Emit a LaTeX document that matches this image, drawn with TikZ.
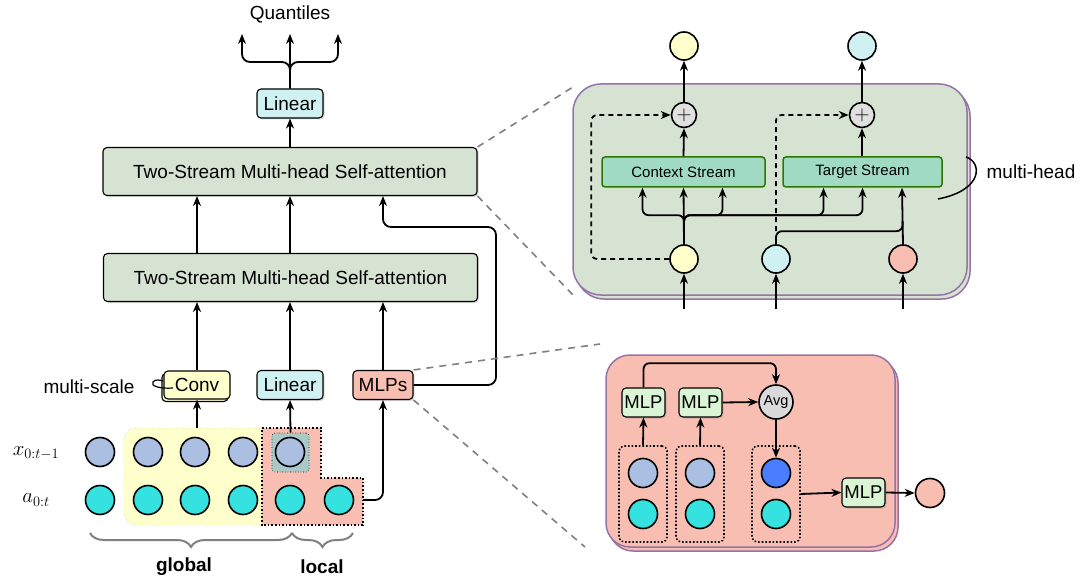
\documentclass[tikz,border=0pt]{standalone}
\usepackage{fontspec}
\setmainfont{Liberation Sans}
\usetikzlibrary{arrows.meta,shadows,decorations.pathreplacing}

\definecolor{tsgreen}{HTML}{D6E3D3}
\definecolor{lincyan}{HTML}{CFF1F1}
\definecolor{convyellow}{HTML}{FFFFCC}
\definecolor{salmon}{HTML}{F9BEB2}
\definecolor{xblue}{HTML}{AABFE2}
\definecolor{acyan}{HTML}{36E2E0}
\definecolor{selteal}{HTML}{A9C9C7}
\definecolor{panelpurple}{HTML}{9673A6}
\definecolor{streamgreen}{HTML}{A0DAC3}
\definecolor{streamborder}{HTML}{2D7600}
\definecolor{mlpgreen}{HTML}{D9F5D3}
\definecolor{plusgray}{HTML}{E0E0E0}
\definecolor{avggray}{HTML}{DADADA}
\definecolor{avgblue}{HTML}{4A7DFF}

\begin{document}
\begin{tikzpicture}[x=1pt, y=-1pt,
    every node/.style={font=\fontsize{19}{22}\selectfont},
    arr/.style={-{Stealth[length=10pt,width=8pt]}, line width=1.8pt},
    blk/.style={draw, rounded corners=4pt, inner sep=0pt, line width=1.1pt,
      drop shadow={shadow xshift=1.5pt, shadow yshift=-1.5pt, opacity=0.3}},
    tsbox/.style={blk, fill=tsgreen, minimum width=374pt, minimum height=48pt},
    linbox/.style={blk, fill=lincyan, minimum width=66pt, minimum height=29pt},
    convbox/.style={draw, rounded corners=4pt, inner sep=0pt, line width=1.1pt,
      fill=convyellow, minimum width=66pt, minimum height=28pt,
      copy shadow={shadow xshift=-2pt, shadow yshift=-2.5pt}},
    mlpsbox/.style={blk, fill=salmon, minimum width=60pt, minimum height=29pt},
    dat/.style={circle, draw, line width=1.6pt, minimum size=29pt, inner sep=0pt},
    panel/.style={draw=panelpurple, line width=1.5pt, rounded corners=28pt,
      copy shadow={shadow xshift=3pt, shadow yshift=-4pt}},
    streambox/.style={draw=streamborder, fill=streamgreen, line width=1.5pt,
      rounded corners=3pt, inner sep=0pt, minimum height=30pt,
      font=\fontsize{15}{18}\selectfont},
    mlpbox/.style={blk, fill=mlpgreen, minimum width=43pt, minimum height=29pt,
      font=\fontsize{18.5}{20}\selectfont},
    grp/.style={draw, dotted, line width=1.6pt, rounded corners=5pt,
      minimum width=48pt, minimum height=96pt},
    zoomline/.style={gray, line width=1.6pt, dash pattern=on 7pt off 6pt}
  ]
  \useasboundingbox (0,0) rectangle (1081,580);

  % zoom lines
  \coordinate (zmt) at (600,344);
  \coordinate (zmb) at (585,547);

  % left column
  \node (quant) at (290,14) {Quantiles};
  \coordinate (qa) at (242,34);
  \coordinate (qb) at (290,34);
  \coordinate (qc) at (338,34);
  \node[linbox] (linq) at (290,103.5) {Linear};
  \node[tsbox] (ts2) at (290,171.5) {Two-Stream Multi-head Self-attention};
  \node[tsbox] (ts1) at (290.5,277.5) {Two-Stream Multi-head Self-attention};
  \node[convbox] (conv) at (197,385) {Conv};
  \node[linbox] (linm) at (290,385) {Linear};
  \node[mlpsbox] (mlps) at (383,385) {MLPs};
  \node (mscale) at (89,387) {multi-scale};

  % input regions
  \node[draw=gray, dotted, fill=convyellow, rounded corners=12pt, inner sep=0pt,
    minimum width=146pt, minimum height=97pt] (glob) at (197,476.5) {};
  \draw[fill=salmon, dotted, line width=1.6pt] (262,428) -- (321,428) -- (321,478)
    -- (363,478) -- (363,525) -- (262,525) -- cycle;
  \coordinate (locr) at (363,500);
  \node[draw, dotted, fill=selteal, rounded corners=3pt, line width=0.6pt,
    minimum width=37pt, minimum height=39pt] (xsel) at (290.5,452.5) {};

  \foreach \i/\px in {1/100,2/148,3/195,4/243,5/290}
    \node[dat, fill=xblue] (x\i) at (\px,452) {};
  \foreach \i/\px in {1/100,2/148,3/195,4/243,5/290,6/339}
    \node[dat, fill=acyan] (a\i) at (\px,500) {};

  \node (xlab) at (36,453) {\fontsize{21}{24}\selectfont$x_{0:t-1}$};
  \node (alab) at (36,500) {\fontsize{21}{24}\selectfont$a_{0:t}$};
  \node (glab) at (184,567) {\bfseries global};
  \node (llab) at (322,567) {\bfseries local};
  \draw[decorate, decoration={brace, mirror, amplitude=14pt}, gray, line width=2pt]
    (90,533) -- (292,533);
  \draw[decorate, decoration={brace, mirror, amplitude=14pt}, gray, line width=2pt]
    (292,533) -- (353,533);

  \draw[line width=1.2pt] (173,388) .. controls (160,389) and (150,386) .. (153,382)
    .. controls (155,379) and (160,380) .. (163,381);

  \draw[arr, rounded corners=8pt] (linq.north) -- (290,62) -| (qa);
  \draw[arr] (linq.north) -- (qb);
  \draw[arr, rounded corners=8pt] (linq.north) -- (290,62) -| (qc);
  \draw[arr] (ts2.north) -- (linq.south);
  \draw[arr] (ts1.north -| conv.north) -- (ts2.south -| conv.north);
  \draw[arr] (ts1.north -| linm.north) -- (ts2.south -| linm.north);
  \draw[arr] (conv.north) -- (ts1.south -| conv.north);
  \draw[arr] (linm.north) -- (ts1.south -| linm.north);
  \draw[arr] (mlps.north) -- (ts1.south -| mlps.north);
  \draw[arr, rounded corners=8pt] (mlps.east) -| (496,227) -| (ts2.south -| mlps.north);
  \draw[arr] (glob.north) -- (conv.south);
  \draw[arr] (xsel.north) -- (linm.south);
  \draw[arr, rounded corners=8pt] (locr) -| (mlps.south);

  % zoom lines
  \draw[zoomline] (ts2.north east) -- (573,87);
  \draw[zoomline] (ts2.south east) -- (573,295);
  \draw[zoomline] (mlps.north east) -- (zmt);
  \draw[zoomline] (mlps.south east) -- (zmb);

  % two-stream panel
  \node[panel, fill=tsgreen, minimum width=394pt, minimum height=211pt] (attn)
    at (770,189.5) {};
  \node[dat, fill=convyellow, minimum size=28pt] (oy) at (684,46) {};
  \node[dat, fill=lincyan, minimum size=28pt] (oc) at (862,46) {};
  \node[dat, fill=plusgray, minimum size=25pt] (p1) at (684,115) {\fontsize{20}{20}\selectfont$+$};
  \node[dat, fill=plusgray, minimum size=25pt] (p2) at (862,115) {\fontsize{20}{20}\selectfont$+$};
  \node[streambox, minimum width=163pt] (ctx) at (683.5,172) {Context Stream};
  \node[streambox, minimum width=159pt] (tgt) at (862.5,172) {Target Stream};
  \node[dat, fill=convyellow, minimum size=28pt] (iy) at (684,259) {};
  \node[dat, fill=lincyan, minimum size=28pt] (ic) at (776,259) {};
  \node[dat, fill=salmon, minimum size=28pt] (is) at (903,259) {};
  \coordinate (by) at (684,309);
  \coordinate (bc) at (776,309);
  \coordinate (bs) at (903,309);
  \node (mhead) at (1031,172) {multi-head};
  \draw[line width=1.5pt] (966,157) .. controls (982,162) and (984,190) .. (938,199);

  \draw[arr] (by) -- (iy.south);
  \draw[arr] (bc) -- (ic.south);
  \draw[arr] (bs) -- (is.south);
  \draw[arr] (iy.north) -- (ctx.south);
  \draw[arr, rounded corners=6pt] (iy.north) -- ++(0,-29) -| ([xshift=-41pt]ctx.south);
  \draw[arr, rounded corners=6pt] (iy.north) -- ++(0,-29) -| ([xshift=39pt]ctx.south);
  \draw[arr, rounded corners=6pt] (iy.north) -- ++(0,-29) -| ([xshift=-39pt]tgt.south);
  \draw[arr, rounded corners=6pt] (iy.north) -- ++(0,-29) -| (tgt.south);
  \draw[arr] (is.north) -- ([xshift=39.5pt]tgt.south);
  \draw[line width=1.8pt, rounded corners=6pt] (ic.north) -- ++(0,-13) -- ++(126.5,0) -- ++(0,-10);
  \draw[arr, dash pattern=on 5pt off 4pt, rounded corners=6pt] (iy.west) -| ([xshift=-79.5pt]p1.west) -- (p1.west);
  \draw[arr, dash pattern=on 5pt off 4pt, rounded corners=6pt] ([yshift=13pt]ic.north) |- (p2.west);
  \draw[arr] (ctx.north) -- (p1.south);
  \draw[arr] (tgt.north -| p2.south) -- (p2.south);
  \draw[arr] (p1.north) -- (oy.south);
  \draw[arr] (p2.north) -- (oc.south);

  % aggregation panel
  \node[panel, fill=salmon, rounded corners=24pt, minimum width=289pt, minimum height=192pt]
    (agg) at (750.5,451) {};
  \node[mlpbox] (mlpa) at (643.5,402.5) {MLP};
  \node[mlpbox] (mlpb) at (700.5,402.5) {MLP};
  \node[dat, fill=avggray, minimum size=34pt, font=\fontsize{14.5}{16}\selectfont]
    (avg) at (776,402) {Avg};
  \node[grp] (ga) at (643,494) {};
  \node[grp] (gb) at (700,494) {};
  \node[grp] (gc) at (776,494) {};
  \node[dat, fill=xblue] (ua) at (643,473) {};
  \node[dat, fill=acyan] (la) at (643,514) {};
  \node[dat, fill=xblue] (ub) at (700,473) {};
  \node[dat, fill=acyan] (lb) at (700,514) {};
  \node[dat, fill=avgblue] (uc) at (776,473) {};
  \node[dat, fill=acyan] (lc) at (776,514) {};
  \node[mlpbox] (mlpc) at (863.5,492.5) {MLP};
  \node[dat, fill=salmon] (oagg) at (930,493) {};

  \draw[arr] (ga.north) -- (mlpa.south);
  \draw[arr] (gb.north) -- (mlpb.south);
  \draw[arr] (mlpb.east) -- (avg.west);
  \draw[arr, rounded corners=6pt] (mlpa.north) |- ([yshift=21pt]avg.north) -- (avg.north);
  \draw[arr] (avg.south) -- (uc.north);
  \draw[arr] (gc.east) -- (mlpc.west);
  \draw[arr] (mlpc.east) -- (oagg.west);
\end{tikzpicture}
\end{document}
